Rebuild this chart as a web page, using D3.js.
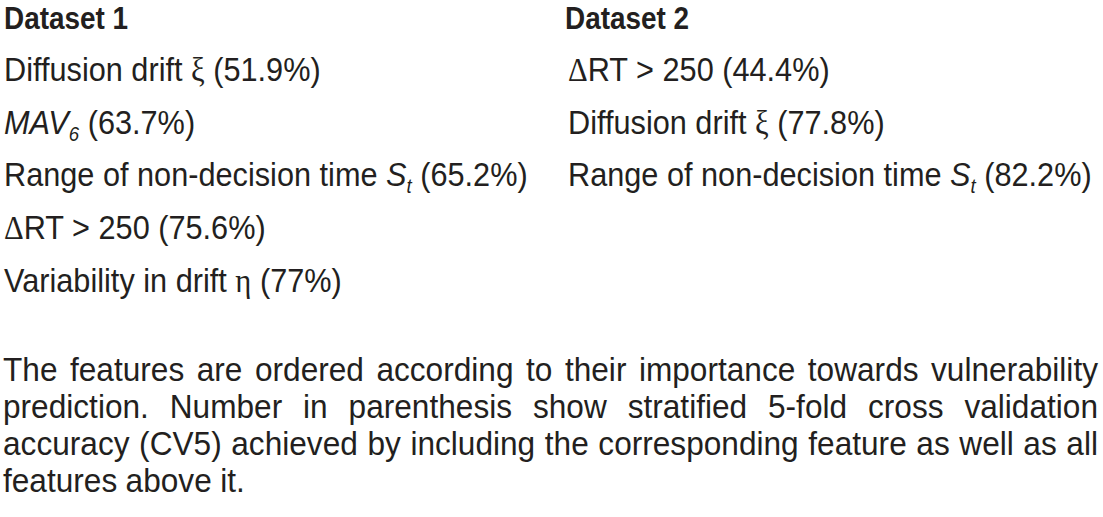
<!DOCTYPE html>
<html>
<head>
<meta charset="utf-8">
<script src="https://cdn.jsdelivr.net/npm/d3@7"></script>
<style>
  body { margin: 0; background: #fff; }
  svg text { fill: #231f20; }
</style>
</head>
<body>
<div id="table"></div>
<script>
// features in order of importance, with CV5 accuracy (%)
var dataset1Features = ["Diffusion drift ξ", "*MAV*_6", "Range of non-decision time *S*_t", "ΔRT > 250", "Variability in drift η"],
    dataset1Cv5 = [51.9, 63.7, 65.2, 75.6, 77],
    dataset2Features = ["ΔRT > 250", "Diffusion drift ξ", "Range of non-decision time *S*_t"],
    dataset2Cv5 = [44.4, 77.8, 82.2],
    headers = ["Dataset 1", "Dataset 2"];

var noteLines = [
    "The features are ordered according to their importance towards vulnerability",
    "prediction. Number in parenthesis show stratified 5-fold cross validation",
    "accuracy (CV5) achieved by including the corresponding feature as well as all",
    "features above it."
];

var width = 1103,
    height = 517,
    bodySize = 33,
    noteSize = 34,
    squeeze = 0.93;   // no narrow font installed, so compress horizontally

var svg = d3.select("#table").append("svg")
    .attr("width", width)
    .attr("height", height)
    .style("font-family", "'Liberation Sans', Arial, sans-serif");

// row baselines
var y = d3.scaleLinear().domain([0, 5]).range([28, 292]);
var colX = d3.scaleOrdinal().domain([0, 1]).range([4, 568]);

// split a label into runs: *italic*, _subscript, greek letters
function segments(label) {
    return label.split(/(\*[^*]+\*|_\w|[ξηΔ])/).filter(function(s) { return s.length; })
        .map(function(s) {
            if (s[0] === "*") return {t: s.slice(1, -1), italic: true};
            if (s[0] === "_") return {t: s.slice(1), sub: true};
            if ("ξηΔ".indexOf(s) >= 0) return {t: s, greek: true};
            return {t: s};
        });
}

function drawColumn(col, features, values) {
    // header
    svg.append("text")
        .attr("transform", "translate(" + (colX(col) - (col ? 3 : 0)) + "," + (y(0) + 1) + ") scale(0.9,1)")
        .style("font-size", "31px")
        .style("font-weight", "bold")
        .text(headers[col]);

    var g = svg.append("g").attr("transform", "translate(" + colX(col) + ",0) scale(" + squeeze + ",1)");

    features.forEach(function(f, i) {
        var txt = g.append("text")
            .attr("x", 0)
            .attr("y", y(i + 1))
            .style("font-size", bodySize + "px");
        var wasSub = false;
        segments(f).forEach(function(s) {
            var ts = txt.append("tspan").text(s.t);
            if (s.italic) ts.style("font-style", "italic");
            if (s.greek) ts.style("font-family", "'Liberation Serif', serif");
            if (s.sub) {
                ts.style("font-style", "italic").style("font-size", "20px").attr("dy", 7);
                wasSub = true;
            } else if (wasSub) {
                ts.attr("dy", -7);
                wasSub = false;
            }
        });
        var tail = txt.append("tspan").text(" (" + values[i] + "%)");
        if (wasSub) tail.attr("dy", -7);
    });
}

drawColumn(0, dataset1Features, dataset1Cv5);
drawColumn(1, dataset2Features, dataset2Cv5);

// justified footnote
var noteY = d3.scaleLinear().domain([0, 3]).range([381, 492]),
    left = 3, right = 1098;

var note = svg.append("g").attr("transform", "scale(" + squeeze + ",1)");

noteLines.forEach(function(line, li) {
    var words = line.split(" ");
    var last = li === noteLines.length - 1;
    var texts = words.map(function(w) {
        return note.append("text")
            .attr("y", noteY(li))
            .style("font-size", noteSize + "px")
            .text(w);
    });
    var widths = texts.map(function(t) { return t.node().getComputedTextLength(); });
    var space = 9;
    if (!last) space = (right / squeeze - left / squeeze - d3.sum(widths)) / (words.length - 1);
    var x = left / squeeze;
    texts.forEach(function(t, i) {
        t.attr("x", x);
        x += widths[i] + space;
    });
});
</script>
</body>
</html>
